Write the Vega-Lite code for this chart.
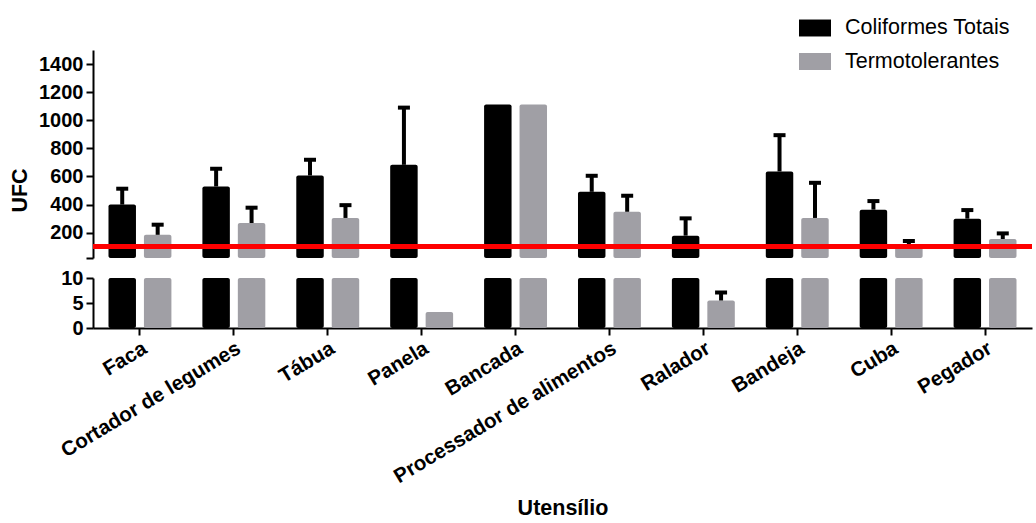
{
  "$schema": "https://vega.github.io/schema/vega-lite/v6.json",
  "padding": {"left": 9, "top": 12, "right": 0, "bottom": 3},
  "background": "white",
  "config": {
    "view": {"stroke": null},
    "font": "Liberation Sans",
    "axis": {
      "domainColor": "#000000", "domainWidth": 2,
      "tickColor": "#000000", "tickWidth": 2, "tickSize": 7,
      "labelFont": "Liberation Sans", "labelFontWeight": "bold", "labelFontSize": 20, "labelColor": "#000000",
      "labelPadding": 3, "labelOverlap": false, "labelLimit": 500,
      "titleFont": "Liberation Sans", "titleFontWeight": "bold", "titleFontSize": 21.5, "titleColor": "#000000",
      "grid": false
    }
  },
  "data": {"values": [
    {"u": "Faca", "s": "Coliformes Totais", "v": 400, "hi": 513},
    {"u": "Faca", "s": "Termotolerantes", "v": 185, "hi": 257},
    {"u": "Cortador de legumes", "s": "Coliformes Totais", "v": 529, "hi": 655},
    {"u": "Cortador de legumes", "s": "Termotolerantes", "v": 269, "hi": 378},
    {"u": "Tábua", "s": "Coliformes Totais", "v": 607, "hi": 719},
    {"u": "Tábua", "s": "Termotolerantes", "v": 305, "hi": 396},
    {"u": "Panela", "s": "Coliformes Totais", "v": 683, "hi": 1090},
    {"u": "Panela", "s": "Termotolerantes", "v": 3.2, "hi": null},
    {"u": "Bancada", "s": "Coliformes Totais", "v": 1112, "hi": null},
    {"u": "Bancada", "s": "Termotolerantes", "v": 1112, "hi": null},
    {"u": "Processador de alimentos", "s": "Coliformes Totais", "v": 491, "hi": 605},
    {"u": "Processador de alimentos", "s": "Termotolerantes", "v": 349, "hi": 463},
    {"u": "Ralador", "s": "Coliformes Totais", "v": 179, "hi": 302},
    {"u": "Ralador", "s": "Termotolerantes", "v": 5.5, "hi": 7.1},
    {"u": "Bandeja", "s": "Coliformes Totais", "v": 636, "hi": 894},
    {"u": "Bandeja", "s": "Termotolerantes", "v": 305, "hi": 555},
    {"u": "Cuba", "s": "Coliformes Totais", "v": 364, "hi": 425},
    {"u": "Cuba", "s": "Termotolerantes", "v": 108, "hi": 141},
    {"u": "Pegador", "s": "Coliformes Totais", "v": 300, "hi": 361},
    {"u": "Pegador", "s": "Termotolerantes", "v": 155, "hi": 195}
  ]},
  "spacing": 20,
  "bounds": "flush",
  "resolve": {"scale": {"color": "independent", "y": "independent"}, "legend": {"color": "independent"}},
  "vconcat": [
    {
      "width": 939,
      "height": 208,
      "layer": [
        {
          "mark": {"type": "bar", "cornerRadius": 2},
          "encoding": {
            "x": {"field": "u", "type": "nominal", "sort": null, "scale": {"paddingInner": 0, "paddingOuter": 0}, "axis": null},
            "xOffset": {"field": "s", "type": "nominal", "scale": {"paddingInner": 0.225, "paddingOuter": 0.437}},
            "y": {"field": "v", "type": "quantitative", "stack": null,
                  "scale": {"domain": [20, 1500], "zero": false, "nice": false, "clamp": true},
                  "axis": {"title": "UFC", "titleY": 140, "titlePadding": 7, "format": "d", "tickCount": 30,
                           "values": [20, 200, 400, 600, 800, 1000, 1200, 1400],
                           "labelExpr": "datum.value == 20 ? '' : datum.label"}},
            "y2": {"datum": 20},
            "color": {"field": "s", "type": "nominal",
                      "scale": {"domain": ["Coliformes Totais", "Termotolerantes"], "range": ["#000000", "#a09fa5"]},
                      "legend": {"orient": "none", "legendX": 706, "legendY": -38, "title": null, "direction": "vertical",
                                 "symbolType": "M-1,-0.53H1V0.53H-1Z", "symbolSize": 1024, "symbolStrokeWidth": 0, "symbolOpacity": 1,
                                 "labelFont": "Liberation Sans", "labelFontSize": 21.5, "labelColor": "#000000", "labelOffset": 14,
                                 "labelLimit": 400, "rowPadding": 6.5}}
          }
        },
        {
          "transform": [{"filter": "isValid(datum.hi) && datum.hi > 20"}],
          "mark": {"type": "rule", "color": "#000000", "strokeWidth": 4},
          "encoding": {
            "x": {"field": "u", "type": "nominal", "sort": null, "axis": null},
            "xOffset": {"field": "s", "type": "nominal"},
            "y": {"field": "v", "type": "quantitative"},
            "y2": {"field": "hi"}
          }
        },
        {
          "transform": [{"filter": "isValid(datum.hi) && datum.hi > 20"}],
          "mark": {"type": "tick", "color": "#000000", "thickness": 4, "size": 12, "opacity": 1},
          "encoding": {
            "x": {"field": "u", "type": "nominal", "sort": null, "axis": null},
            "xOffset": {"field": "s", "type": "nominal"},
            "y": {"field": "hi", "type": "quantitative"}
          }
        },
        {
          "mark": {"type": "rule", "color": "#ff0000", "strokeWidth": 4},
          "encoding": {"y": {"datum": 100}}
        }
      ]
    },
    {
      "width": 939,
      "height": 50,
      "layer": [
        {
          "mark": {"type": "bar", "cornerRadius": 2},
          "encoding": {
            "x": {"field": "u", "type": "nominal", "sort": null, "scale": {"paddingInner": 0, "paddingOuter": 0},
                  "axis": {"title": "Utensílio", "labelAngle": -31, "labelAlign": "right", "labelBaseline": "top", "labelFontSize": 20.5, "titlePadding": 10}},
            "xOffset": {"field": "s", "type": "nominal", "scale": {"paddingInner": 0.225, "paddingOuter": 0.437}},
            "y": {"field": "v", "type": "quantitative", "stack": null,
                  "scale": {"domain": [0, 10], "nice": false, "clamp": true},
                  "axis": {"title": null, "values": [0, 5, 10], "tickCount": 10, "format": "d"}},
            "y2": {"datum": 0},
            "color": {"field": "s", "type": "nominal",
                      "scale": {"domain": ["Coliformes Totais", "Termotolerantes"], "range": ["#000000", "#a09fa5"]},
                      "legend": null}
          }
        },
        {
          "transform": [{"filter": "isValid(datum.hi) && datum.hi <= 10"}],
          "mark": {"type": "rule", "color": "#000000", "strokeWidth": 4},
          "encoding": {
            "x": {"field": "u", "type": "nominal", "sort": null},
            "xOffset": {"field": "s", "type": "nominal"},
            "y": {"field": "v", "type": "quantitative"},
            "y2": {"field": "hi"}
          }
        },
        {
          "transform": [{"filter": "isValid(datum.hi) && datum.hi <= 10"}],
          "mark": {"type": "tick", "color": "#000000", "thickness": 4, "size": 12, "opacity": 1},
          "encoding": {
            "x": {"field": "u", "type": "nominal", "sort": null},
            "xOffset": {"field": "s", "type": "nominal"},
            "y": {"field": "hi", "type": "quantitative"}
          }
        }
      ]
    }
  ]
}
